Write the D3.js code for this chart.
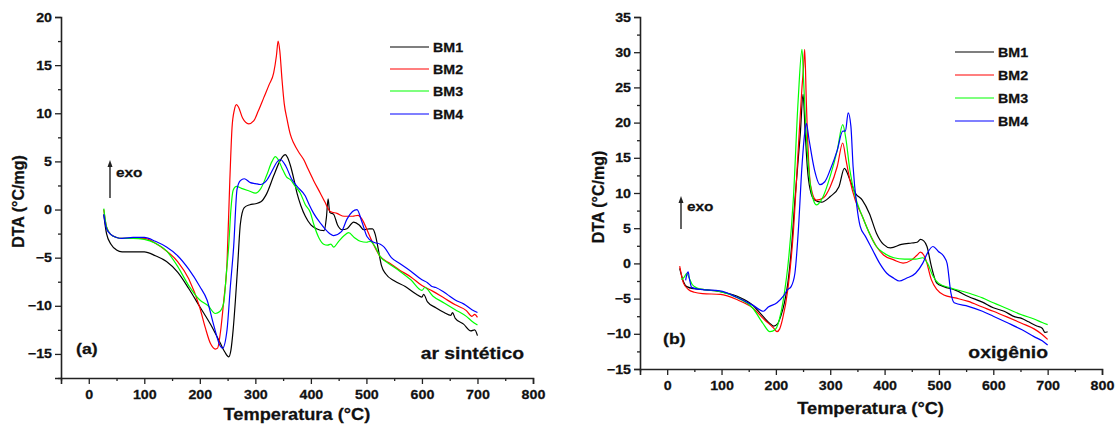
<!DOCTYPE html>
<html><head><meta charset="utf-8">
<script src="https://cdn.jsdelivr.net/npm/d3@7"></script>
<style>body{margin:0;background:#fff}svg{display:block}text{font-family:"Liberation Sans",Arial,sans-serif;font-weight:bold;fill:#111;stroke:#111;stroke-width:0.25px}</style>
</head><body><svg id="c" width="1116" height="426"></svg>
<script>
// ---- Data: panel (a) ar sintético ----
const seriesNames = ["BM1","BM2","BM3","BM4"];
const seriesColors = ["#000000","#ff0000","#00ff00","#0000ff"];
const xTicksMajor = [0,100,200,300,400,500,600,700,800];

const a_BM1 = [[27,-0.5],[32,-2.5],[40,-3.6],[50,-4.2],[60,-4.4],[80,-4.4],[100,-4.4],[120,-4.8],[140,-5.4],[160,-6.5],[180,-8.2],[200,-10.1],[220,-12],[237,-13.9],[245,-14.8],[252,-15.3],[256,-14.6],[260,-12.5],[264,-9.5],[268,-6],[273,-1.5],[280,0.2],[290,0.5],[300,0.6],[310,0.8],[320,1.6],[333,3.5],[343,4.9],[349,5.5],[354,5.7],[358,5.4],[363,4.6],[370,3],[375,1.7],[382,0.4],[390,-0.7],[400,-1.6],[410,-2.0],[424,-2.2],[428,-0.8],[431,1.1],[434,-0.3],[441,-0.5],[448,-1.6],[456,-2.1],[465,-2.0],[477,-1.3],[487,-1.6],[495,-2.1],[505,-2.0],[511,-2.0],[516,-2.6],[521,-4.0],[527,-5.8],[535,-6.7],[550,-7.4],[570,-8.0],[590,-8.8],[600,-9.1],[603,-8.8],[610,-9.6],[625,-10.2],[640,-10.7],[652,-11.0],[655,-10.7],[660,-11.3],[675,-11.9],[688,-12.6],[695,-12.5],[700,-13.1]];
const a_BM2 = [[27,0],[32,-1.8],[40,-2.6],[50,-2.9],[60,-3.0],[80,-3.0],[100,-3.0],[120,-3.5],[140,-4.3],[160,-5.4],[180,-7.2],[200,-10.2],[210,-12.3],[219,-13.9],[228,-14.5],[232,-14.4],[237,-12.8],[243,-9.5],[249,-5.5],[254,3.0],[258,8.5],[262,10.3],[266,10.9],[270,10.6],[277,9.5],[288,8.9],[297,9.2],[305,10.2],[315,11.6],[325,13],[333,14.2],[338,16],[341,17.5],[344,16.5],[348,13.5],[352,11],[357,9.4],[363,7.8],[369,6.9],[380,5.8],[387,5.2],[395,4.2],[405,3.0],[417,1.7],[425,0.8],[435,-0.2],[447,-0.4],[460,-0.7],[475,-0.7],[485,-0.6],[492,-1.0],[501,-2.1],[510,-3.3],[525,-4.9],[540,-5.5],[560,-6.3],[580,-7.0],[600,-7.9],[620,-8.5],[640,-9.2],[660,-9.9],[680,-10.5],[690,-11.1],[695,-10.9],[700,-11.2]];
const a_BM3 = [[27,0.1],[32,-1.8],[40,-2.6],[50,-2.9],[60,-3.0],[80,-3.0],[100,-3.1],[120,-3.5],[140,-4.3],[160,-5.9],[180,-7.9],[200,-9.4],[215,-10.0],[228,-10.8],[236,-10.6],[243,-9.7],[248,-6.5],[252,-3.8],[256,0],[260,2.0],[266,2.4],[275,2.2],[290,1.9],[300,1.7],[310,2.2],[320,3.5],[330,5.0],[336,5.5],[341,5.2],[348,4.3],[356,3.4],[363,3.1],[372,2.4],[381,1.7],[390,0.5],[399,-0.3],[405,-1.5],[415,-3.0],[423,-3.6],[430,-3.7],[436,-3.6],[441,-3.9],[450,-3.3],[460,-2.7],[468,-2.4],[478,-2.9],[489,-3.3],[500,-3.4],[507,-3.3],[515,-3.8],[525,-4.9],[540,-5.6],[560,-6.4],[580,-7.3],[600,-8.4],[605,-8.1],[620,-9.0],[640,-9.7],[660,-10.4],[680,-11.1],[690,-11.6],[700,-12.0]];
const a_BM4 = [[27,-0.5],[32,-2.0],[40,-2.6],[50,-2.9],[60,-3.0],[80,-2.9],[100,-2.9],[120,-3.3],[140,-3.9],[160,-4.8],[180,-6.2],[200,-8.0],[213,-9.4],[225,-12],[237,-14.2],[241,-14.4],[249,-12.5],[255,-8],[261,-3.8],[267,2.1],[273,3.0],[280,3.2],[291,2.8],[300,2.7],[309,2.6],[320,3.0],[330,4.0],[340,5.0],[345,5.2],[355,4.5],[365,3.2],[375,2.4],[390,1.4],[397,0.5],[405,-0.4],[417,-1.4],[430,-2.3],[441,-2.7],[455,-2.3],[465,-1.0],[475,-0.2],[483,0.0],[492,-1.3],[501,-2.8],[513,-3.4],[525,-3.6],[532,-3.9],[545,-5.0],[560,-5.6],[580,-6.4],[600,-7.3],[610,-7.6],[618,-8.0],[625,-8.1],[640,-8.6],[650,-9.0],[660,-9.4],[675,-9.8],[690,-10.4],[700,-10.7]];

// ---- Data: panel (b) oxigênio ----
const b_BM1 = [[23,-0.7],[30,-2.6],[36,-3.3],[50,-3.6],[65,-3.7],[98,-4.0],[130,-4.7],[157,-5.9],[176,-7.5],[190,-8.6],[196,-8.9],[203,-8.6],[209,-7.5],[216,-5.5],[222,-2.8],[229,2.5],[235,9],[245,18.5],[250,24],[254,18.5],[258,13.5],[263,10.5],[271,9],[284,8.7],[300,9.5],[316,10.9],[326,13.5],[336,11.9],[346,10],[359,9],[372,7.1],[385,4.3],[398,2.7],[411,2.2],[431,2.7],[450,2.9],[460,3.0],[466,3.4],[472,3.2],[478,2.4],[486,-0.4],[496,-2.8],[509,-3.3],[530,-3.8],[554,-4.7],[580,-5.5],[600,-6.3],[620,-6.8],[640,-7.6],[652,-7.8],[665,-8.3],[680,-8.9],[690,-9.2],[695,-9.8],[700,-9.7]];
const b_BM2 = [[23,-0.4],[30,-2.8],[39,-3.7],[50,-4.1],[65,-4.3],[98,-4.4],[130,-5.2],[157,-6.3],[179,-8.0],[196,-9.2],[202,-9.7],[207,-9.3],[212,-8],[222,-3.7],[232,4.3],[241,16],[248,25],[251,28],[253,30.4],[256,23],[258,18.5],[264,11],[274,9],[287,9.3],[300,10.9],[313,13.8],[323,17.1],[329,14.7],[336,11.9],[346,9.0],[359,6.7],[372,4.3],[385,2.4],[398,1.2],[417,0.5],[434,0.05],[450,0.5],[460,1.2],[466,1.6],[472,1.2],[476,0.5],[486,-2.3],[496,-3.7],[509,-4.5],[530,-4.9],[554,-5.4],[580,-6.2],[600,-6.8],[625,-7.6],[652,-8.5],[675,-9.3],[690,-10.1],[700,-10.8]];
const b_BM3 = [[26,-2.3],[31,-2.0],[36,-1.4],[40,-2.0],[46,-3.0],[55,-3.5],[65,-3.7],[98,-4.0],[130,-4.9],[157,-6.3],[176,-8.5],[189,-9.7],[199,-9.4],[209,-7.1],[216,-4],[222,-0.4],[232,9],[241,23.2],[248,30.4],[251,26],[254,20.9],[261,12.8],[269,9],[275,8.3],[287,9.5],[300,12.4],[313,16.1],[323,19.7],[329,17.6],[336,13.3],[346,9.5],[359,6.7],[372,4.3],[385,2.4],[398,1.5],[417,0.8],[437,0.6],[457,0.6],[470,0.8],[479,0],[489,-1.8],[499,-2.8],[522,-3.5],[554,-4.2],[580,-4.9],[600,-5.6],[625,-6.4],[652,-7.3],[675,-7.9],[690,-8.4],[700,-8.7]];
const b_BM4 = [[34,-2.4],[36,-1.6],[38.6,-1.2],[41,-2.2],[45,-3.4],[61,-3.7],[97,-3.9],[128,-4.8],[159,-6.0],[177,-6.8],[186,-6.2],[202,-5.6],[214,-4.6],[222,-3.7],[228,-3.3],[235,-1.4],[241,4.3],[248,13.8],[253,18.5],[256,19.9],[261,17.6],[271,13.3],[281,11.2],[290,11.6],[300,13.3],[313,16.1],[323,18.8],[328,18.8],[333,21.4],[338,19.5],[342,13.8],[349,8.1],[355,5.3],[365,3.8],[378,1.9],[391,0],[404,-1.4],[417,-2.1],[427,-2.5],[440,-2.1],[457,-1.4],[470,0],[479,1.5],[489,2.4],[499,1.7],[509,1.0],[515,0],[522,-4.2],[528,-5.6],[554,-6.1],[580,-6.8],[600,-7.5],[625,-8.4],[652,-9.4],[675,-10.4],[690,-11.0],[700,-11.6]];

const SX = 1.14; // horizontal stretch of the original lettering
const panels = [
  {id:"a", x0:61, x1:533, y0:378, y1:17, yDom:[-17.5,20], yMajor:d3.range(-15,20.1,5), yMinor:d3.range(-17.5,20,5),
   data:[a_BM1,a_BM2,a_BM3,a_BM4], label:"(a)", gas:"ar sintético",
   labelPos:[76,354], gasPos:[524,359], legX:390, legY:[47,69,91,114], exo:[110,198,160,116,177],
   yTitleX:24, xTitleY:420},
  {id:"b", x0:640, x1:1102, y0:369, y1:17, yDom:[-15,35], yMajor:d3.range(-15,35.1,5), yMinor:d3.range(-12.5,35,5),
   data:[b_BM1,b_BM2,b_BM3,b_BM4], label:"(b)", gas:"oxigênio",
   labelPos:[663,344], gasPos:[1048,358], legX:955, legY:[52,75,98,121], exo:[681,229,196,687,211],
   yTitleX:604, xTitleY:414}
];

const svg = d3.select("#c");
function stext(g, x, y, size, str, anchor){
  return g.append("text").attr("transform",`translate(${x},${y}) scale(${SX},1)`)
    .attr("font-size",size).attr("text-anchor",anchor||"start").text(str);
}
panels.forEach(p => {
  const x = d3.scaleLinear().domain([-50,800]).range([p.x0,p.x1]);
  const y = d3.scaleLinear().domain(p.yDom).range([p.y0,p.y1]);
  const g = svg.append("g");
  const xAx = g.append("g").attr("transform",`translate(0,${p.y0})`)
    .call(d3.axisBottom(x).tickValues(xTicksMajor).tickSize(6).tickFormat(d3.format("d")));
  g.append("g").attr("transform",`translate(0,${p.y0})`)
    .call(d3.axisBottom(x).tickValues(d3.range(-50,800,100)).tickSize(3).tickFormat(""))
    .select(".domain").remove();
  const yAx = g.append("g").attr("transform",`translate(${p.x0},0)`)
    .call(d3.axisLeft(y).tickValues(p.yMajor).tickSize(6).tickFormat(d3.format("d")));
  g.append("g").attr("transform",`translate(${p.x0},0)`)
    .call(d3.axisLeft(y).tickValues(p.yMinor).tickSize(3).tickFormat(""))
    .select(".domain").remove();
  g.selectAll(".domain").attr("stroke","#222").attr("stroke-width",1.6);
  g.selectAll(".tick line").attr("stroke","#222").attr("stroke-width",1.3);
  g.selectAll(".tick text").attr("font-size",12.5).attr("font-family","Liberation Sans")
    .attr("font-weight","bold").attr("fill","#111").attr("stroke","#111").attr("stroke-width",0.25);
  xAx.selectAll(".tick text").attr("dy","0.95em").attr("transform",`scale(${SX},1)`);
  yAx.selectAll(".tick text").attr("x",-9/SX).attr("transform",`scale(${SX},1)`);
  // curves
  const line = d3.line().x(d=>x(d[0])).y(d=>y(d[1])).curve(d3.curveMonotoneX);
  p.data.forEach((s,i)=>{
    g.append("path").datum(s).attr("d",line).attr("fill","none")
      .attr("stroke",seriesColors[i]).attr("stroke-width",1.2);
  });
  // legend
  seriesNames.forEach((n,i)=>{
    g.append("line").attr("x1",p.legX).attr("x2",p.legX+39).attr("y1",p.legY[i]).attr("y2",p.legY[i])
      .attr("stroke",seriesColors[i]).attr("stroke-width",1.2);
    stext(g, p.legX+43, p.legY[i]+5, 12.5, n);
  });
  // titles
  g.append("text").attr("transform",`translate(${p.yTitleX},${(p.y0+p.y1)/2 + 4}) rotate(-90)`)
    .attr("text-anchor","middle").attr("font-size",16).text("DTA (°C/mg)");
  stext(g, (x(0)+x(800))/2 - 14, p.xTitleY, 16, "Temperatura (°C)", "middle");
  stext(g, p.labelPos[0], p.labelPos[1], 15.5, p.label);
  stext(g, p.gasPos[0], p.gasPos[1], 17, p.gas, "end");
  // exo arrow
  g.append("line").attr("x1",p.exo[0]).attr("x2",p.exo[0]).attr("y1",p.exo[1]).attr("y2",p.exo[2]+4)
    .attr("stroke","#222").attr("stroke-width",1.4);
  g.append("path").attr("d",`M${p.exo[0]-2.5},${p.exo[2]+7}L${p.exo[0]},${p.exo[2]}L${p.exo[0]+2.5},${p.exo[2]+7}Z`).attr("fill","#222");
  stext(g, p.exo[3], p.exo[4], 13.5, "exo");
});
</script></body></html>
